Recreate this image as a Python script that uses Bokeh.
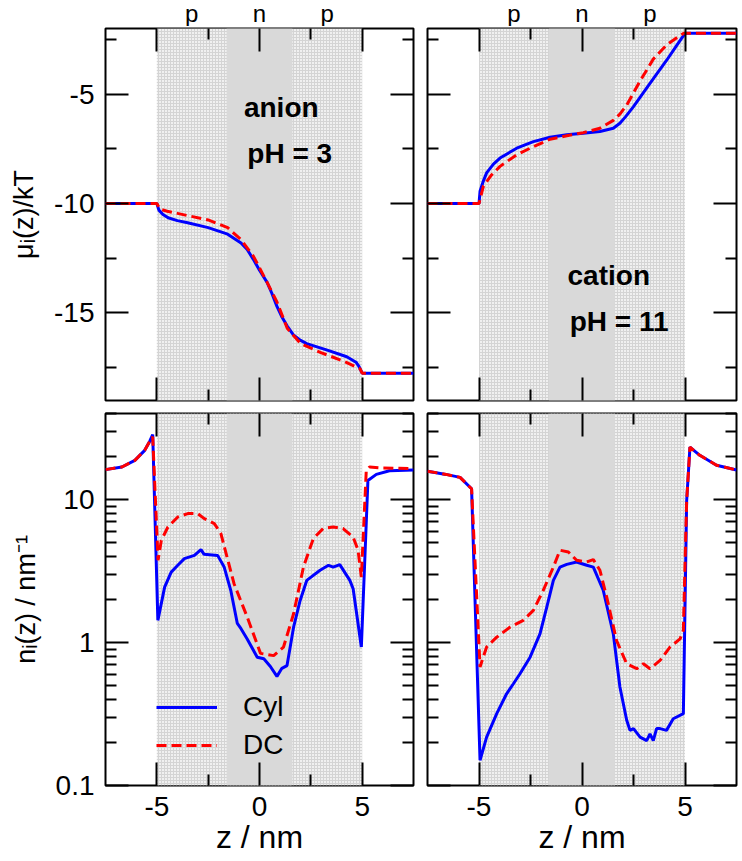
from bokeh.plotting import figure
from bokeh.layouts import column, row
from bokeh.models import (Range1d, FixedTicker, LinearAxis, LogAxis, BoxAnnotation,
                          Legend, LegendItem)
from bokeh.core.properties import value
from bokeh.embed import file_html
from bokeh.resources import INLINE

# ---------------------------------------------------------------- data
# membrane layout along the pore axis (nm)
membrane_edges = [-5.0, 5.0]
n_region_edges = [-1.6, 1.6]
region_labels = ["p", "n", "p"]

# chemical potential, anion at pH 3
mu_anion_cyl_z = [-7.5, -5.0, -4.9, -4.7, -4.45, -4.0, -3.5, -2.5, -1.55, -0.9, -0.6, -0.3,
                  0.0, 0.37, 0.6, 0.85, 1.1, 1.35, 1.65, 2.0, 2.3, 3.3, 4.25, 4.7, 4.85, 5.0, 7.5]
mu_anion_cyl = [-10.0, -10.0, -10.3, -10.5, -10.65, -10.78, -10.88, -11.1, -11.4, -11.8, -12.1,
                -12.55, -13.05, -13.6, -14.1, -14.7, -15.2, -15.6, -16.0, -16.25, -16.4, -16.7,
                -17.0, -17.25, -17.45, -17.75, -17.75]
mu_anion_dc_z = [-7.5, -5.0, -4.85, -4.5, -4.0, -3.5, -2.5, -1.55, -0.9, -0.3, 0.37, 0.85,
                 1.35, 2.0, 2.96, 4.08, 4.9, 5.0, 7.5]
mu_anion_dc = [-10.0, -10.0, -10.25, -10.35, -10.45, -10.55, -10.75, -11.1, -11.65, -12.4,
               -13.6, -14.5, -15.7, -16.4, -16.8, -17.2, -17.55, -17.75, -17.75]

# chemical potential, cation at pH 11
mu_cation_cyl_z = [-7.5, -5.0, -4.95, -4.8, -4.63, -4.3, -3.98, -3.17, -2.36, -1.55, -0.74,
                   0.06, 0.87, 1.52, 1.84, 2.1, 2.49, 3.3, 4.11, 4.6, 5.0, 7.5]
mu_cation_cyl = [-10.0, -10.0, -9.44, -9.0, -8.6, -8.2, -7.92, -7.47, -7.17, -6.97, -6.86,
                 -6.79, -6.71, -6.56, -6.33, -6.05, -5.58, -4.51, -3.45, -2.77, -2.22, -2.22]
mu_cation_dc_z = [-7.5, -5.0, -4.79, -4.4, -3.98, -3.17, -2.36, -1.55, -0.74, 0.06, 0.87,
                  1.52, 1.85, 2.17, 2.82, 3.46, 4.11, 4.6, 4.94, 7.5]
mu_cation_dc = [-10.0, -10.0, -9.21, -8.7, -8.3, -7.77, -7.4, -7.06, -6.9, -6.76, -6.56,
                -6.2, -5.9, -5.5, -4.4, -3.4, -2.75, -2.42, -2.22, -2.22]

# line density, anion at pH 3
n_anion_cyl_z = [-7.5, -6.7, -6.07, -5.59, -5.35, -5.2, -4.95, -4.62, -4.3, -3.98, -3.66,
                 -3.17, -2.85, -2.7, -2.04, -1.72, -1.4, -1.08, -0.9, -0.6, -0.11, 0.21, 0.53,
                 0.85, 1.09, 1.34, 1.66, 1.98, 2.3, 2.95, 3.36, 3.59, 3.91, 4.4, 4.56, 4.96,
                 5.28, 5.69, 6.33, 7.5]
n_anion_cyl = [16.2, 16.9, 18.8, 22.1, 25.5, 28.5, 1.43, 2.44, 3.11, 3.47, 3.86, 4.07, 4.47,
               4.14, 4.07, 3.37, 2.32, 1.36, 1.25, 1.06, 0.79, 0.77, 0.68, 0.58, 0.66, 0.69,
               1.28, 1.97, 2.72, 3.2, 3.47, 3.37, 3.51, 2.72, 2.38, 0.93, 13.6, 15.0, 15.9,
               16.1]
n_anion_dc_z = [-7.5, -6.7, -6.07, -5.59, -5.35, -5.2, -4.94, -4.78, -4.46, -3.98, -3.49,
                -3.01, -2.69, -2.2, -1.88, -1.24, -0.6, 0.05, 0.69, 1.17, 1.66, 2.14, 2.62,
                3.1, 3.59, 4.07, 4.56, 4.8, 4.96, 5.2, 5.36, 6.0, 7.5]
n_anion_dc = [16.2, 16.9, 18.8, 22.1, 25.5, 27.5, 3.76, 5.19, 6.43, 7.55, 7.98, 7.98, 7.36,
              6.79, 5.78, 2.58, 1.51, 0.84, 0.81, 0.93, 1.59, 3.37, 5.33, 6.27, 6.43, 6.27,
              5.47, 4.42, 2.87, 16.0, 16.9, 16.6, 16.5]

# line density, cation at pH 11
n_cation_cyl_z = [-7.5, -6.6, -5.92, -5.36, -4.95, -4.63, -4.14, -3.66, -3.33, -3.01, -2.52,
                  -2.04, -1.71, -1.39, -1.07, -0.74, -0.26, 0.23, 0.55, 1.03, 1.52, 1.84, 2.17,
                  2.33, 2.5, 2.82, 3.14, 3.3, 3.46, 3.62, 3.79, 4.1, 4.43, 4.92, 5.08, 5.24,
                  5.72, 6.53, 7.5]
n_cation_cyl = [15.8, 15.0, 14.3, 11.9, 0.15, 0.218, 0.318, 0.438, 0.515, 0.605, 0.79, 1.15,
                1.77, 2.72, 3.37, 3.52, 3.66, 3.47, 3.37, 2.32, 1.15, 0.489, 0.286, 0.243,
                0.25, 0.218, 0.206, 0.23, 0.206, 0.25, 0.25, 0.243, 0.293, 0.318, 9.8, 23.3,
                20.4, 17.4, 16.1]
n_cation_dc_z = [-7.5, -6.6, -5.92, -5.36, -4.95, -4.63, -4.14, -3.5, -2.85, -2.36, -1.88,
                 -1.39, -1.07, -0.66, -0.26, 0.23, 0.55, 0.87, 1.2, 1.68, 2.17, 2.66, 2.98,
                 3.3, 3.79, 4.27, 4.76, 4.92, 5.08, 5.24, 5.72, 6.53, 7.5]
n_cation_dc = [15.8, 15.0, 14.3, 11.9, 0.675, 0.93, 1.09, 1.28, 1.43, 1.68, 2.32, 3.37, 4.42,
               4.3, 3.76, 3.66, 3.8, 3.2, 2.08, 1.03, 0.71, 0.656, 0.71, 0.656, 0.75, 0.93,
               1.06, 1.22, 9.8, 23.3, 20.4, 17.4, 16.1]

# ticks and their labels
x_major = [-5, 0, 5]
x_minor = [-2.5, 2.5]
x_labels = {-5: "-5", 0: "0", 5: "5"}
mu_major = [-15, -10, -5]
mu_minor = [-17.5, -12.5, -7.5, -2.5]
mu_labels = {-15: "-15", -10: "-10", -5: "-5"}
n_major = [0.1, 1, 10]
n_minor = [0.2, 0.3, 0.4, 0.5, 0.6, 0.7, 0.8, 0.9, 2, 3, 4, 5, 6, 7, 8, 9, 20, 30, 40]
n_labels = {0.1: "0.1", 1: "1", 10: "10"}

# ---------------------------------------------------------------- style
FONT = "Liberation Sans"
BLUE = "#0000ff"
RED = "#ff0000"
X_RANGE = (-7.5, 7.5)
MU_RANGE = (-19, -2)
N_RANGE = (0.1, 40)

LEFT_W, RIGHT_W = 420, 322
LEFT_B = (105, 7)
RIGHT_B = (7, 6)
STRIP_H = 26


def style_axis(ax, major, minor, labels=None):
    ax.ticker = FixedTicker(ticks=major, minor_ticks=minor)
    ax.major_tick_in = 23
    ax.major_tick_out = 0
    ax.minor_tick_in = 11
    ax.minor_tick_out = 0
    ax.major_tick_line_width = 2
    ax.minor_tick_line_width = 2
    ax.major_tick_line_color = "black"
    ax.minor_tick_line_color = "black"
    ax.axis_line_color = None
    if labels:
        ax.major_label_overrides = labels
        ax.major_label_text_font = FONT
        ax.major_label_text_font_size = "28px"
        ax.major_label_text_color = "black"
        ax.major_label_standoff = 11
    else:
        # tick marks only
        ax.major_label_overrides = {t: "" for t in major}
        ax.major_label_text_font_size = "1px"
        ax.major_label_standoff = 0
    ax.axis_label_text_font = FONT
    ax.axis_label_text_font_style = "normal"
    ax.axis_label_text_color = "black"


def panel(left_col, top_row, log_y):
    borders = LEFT_B if left_col else RIGHT_B
    top_b, bottom_b = (2, 6) if top_row else (7, 76)
    p = figure(width=LEFT_W if left_col else RIGHT_W, height=top_b + 372 + bottom_b,
               x_range=Range1d(*X_RANGE),
               y_range=Range1d(*(N_RANGE if log_y else MU_RANGE)),
               y_axis_type="log" if log_y else "linear",
               toolbar_location=None, output_backend="svg",
               min_border_left=borders[0], min_border_right=borders[1],
               min_border_top=top_b, min_border_bottom=bottom_b)
    p.title = None
    p.grid.visible = False
    p.outline_line_color = "black"
    p.outline_line_width = 2
    p.background_fill_color = "white"
    p.border_fill_color = "white"

    y_major, y_minor = (n_major, n_minor) if log_y else (mu_major, mu_minor)
    y_lab = n_labels if log_y else mu_labels
    xb, yl = p.below[0], p.left[0]
    style_axis(xb, x_major, x_minor, None if top_row else x_labels)
    style_axis(yl, y_major, y_minor, y_lab if left_col else None)

    yr = LogAxis() if log_y else LinearAxis()
    style_axis(yr, y_major, y_minor, None)
    p.add_layout(yr, "right")
    xa = LinearAxis()
    style_axis(xa, x_major, x_minor, None)
    p.add_layout(xa, "above")

    # membrane (p regions) and the central n region
    p.add_layout(BoxAnnotation(left=membrane_edges[0], right=membrane_edges[1],
                               fill_color="#f0f0f0", fill_alpha=1.0, line_color=None,
                               hatch_pattern="cross", hatch_scale=3, hatch_color="#d4d4d4",
                               hatch_weight=1, level="underlay"))
    p.add_layout(BoxAnnotation(left=n_region_edges[0], right=n_region_edges[1],
                               fill_color="#d9d9d9", fill_alpha=1.0, line_color=None,
                               level="underlay"))
    return p, xb, yl


def strip(left_col):
    """Names of the membrane regions above a top panel, at each region's centre."""
    borders = LEFT_B if left_col else RIGHT_B
    s = figure(width=LEFT_W if left_col else RIGHT_W, height=STRIP_H,
               x_range=Range1d(*X_RANGE), y_range=Range1d(0, STRIP_H),
               x_axis_location=None, y_axis_location=None,
               toolbar_location=None, output_backend="svg",
               min_border_left=borders[0], min_border_right=borders[1],
               min_border_top=0, min_border_bottom=0)
    s.title = None
    s.grid.visible = False
    s.outline_line_color = None
    s.border_fill_color = "white"
    s.background_fill_color = "white"
    edges = [membrane_edges[0], n_region_edges[0], n_region_edges[1], membrane_edges[1]]
    centers = [(edges[i] + edges[i + 1]) / 2 for i in range(3)]
    s.text(x=centers, y=[STRIP_H - 13.4] * 3, text=region_labels, text_align="center",
           text_baseline="middle", text_font=value(FONT), text_font_size="24px",
           text_color="black")
    return s


def curves(p, zc, yc, zd, yd):
    rc = p.line(zc, yc, line_color=BLUE, line_width=3)
    rd = p.line(zd, yd, line_color=RED, line_width=3, line_dash="10 5")
    return rc, rd


def bold_text(p, x, y, txt):
    p.text(x=[x], y=[y], text=[txt], text_align="center", text_baseline="middle",
           text_font=value(FONT), text_font_style="bold", text_font_size="28px",
           text_color="black")


# ---------------------------------------------------------------- panels
tl, tl_x, tl_y = panel(True, True, False)
curves(tl, mu_anion_cyl_z, mu_anion_cyl, mu_anion_dc_z, mu_anion_dc)
tl_y.axis_label = "μᵢ(z)/kT"
tl_y.axis_label_text_font_size = "27px"
tl_y.axis_label_standoff = 12
bold_text(tl, 1.06, -5.59, "anion")
bold_text(tl, 1.47, -7.72, "pH = 3")

tr, tr_x, tr_y = panel(False, True, False)
curves(tr, mu_cation_cyl_z, mu_cation_cyl, mu_cation_dc_z, mu_cation_dc)
bold_text(tr, 1.3, -13.28, "cation")
bold_text(tr, 1.8, -15.41, "pH = 11")

bl, bl_x, bl_y = panel(True, False, True)
r_cyl, r_dc = curves(bl, n_anion_cyl_z, n_anion_cyl, n_anion_dc_z, n_anion_dc)
bl_y.axis_label = "nᵢ(z) / nm⁻¹"
bl_y.axis_label_text_font_size = "27px"
bl_y.axis_label_standoff = 12

br, br_x, br_y = panel(False, False, True)
curves(br, n_cation_cyl_z, n_cation_cyl, n_cation_dc_z, n_cation_dc)

for ax in (bl_x, br_x):
    ax.axis_label = "z / nm"
    ax.axis_label_text_font_size = "32px"
    ax.axis_label_standoff = 0

legend = Legend(items=[LegendItem(label="Cyl", renderers=[r_cyl]),
                       LegendItem(label="DC", renderers=[r_dc])],
                location=(51, 21), orientation="vertical",
                glyph_width=61, glyph_height=38, label_height=38, label_standoff=26,
                label_text_font=FONT, label_text_font_size="28px",
                label_text_color="black", padding=0, margin=0, spacing=0,
                border_line_color=None, background_fill_alpha=0)
bl.add_layout(legend)

layout = column(row(strip(True), strip(False)), row(tl, tr), row(bl, br))

open("out.html", "w").write(file_html(layout, INLINE))
